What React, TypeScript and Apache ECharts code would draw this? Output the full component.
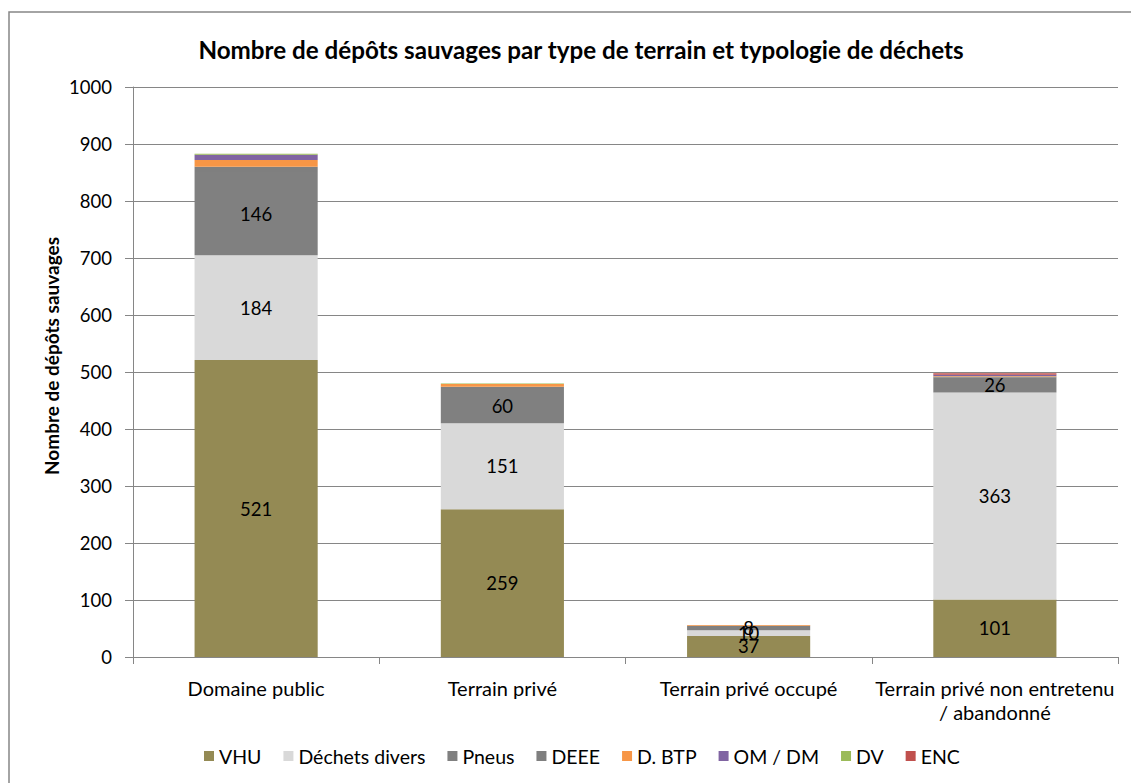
import React, { useEffect, useRef } from "react";
import * as echarts from "echarts";

const categories = [
  "Domaine public",
  "Terrain privé",
  "Terrain privé occupé",
  "Terrain privé non entretenu\n/ abandonné",
];
const seriesNames = ["VHU", "Déchets divers", "Pneus", "DEEE", "D. BTP", "OM / DM", "DV", "ENC"];
const vhu = [521, 259, 37, 101];
const dechetsDivers = [184, 151, 10, 363];
const pneus = [146, 60, 8, 26];
const deee = [9, 4, 0, 2];
const dBtp = [12, 5, 1, 1];
const omDm = [9, 0, 0, 2];
const dv = [2, 1, 0, 0];
const enc = [0, 0, 0, 3];
const seriesValues = [vhu, dechetsDivers, pneus, deee, dBtp, omDm, dv, enc];
const colors = ["#948A54", "#D9D9D9", "#808080", "#7F7F7F", "#F79646", "#8064A2", "#9BBB59", "#C0504D"];
const labelled = [true, true, true, false, false, false, false, false];
const yTicks = { min: 0, max: 1000, interval: 100 };
const titleText = "Nombre de dépôts sauvages par type de terrain et typologie de déchets";
const yAxisTitle = "Nombre de dépôts sauvages";

const FONT = "Lato, 'Open Sans', sans-serif";

export default function App() {
  const ref = useRef<HTMLDivElement>(null);
  useEffect(() => {
    document.body.style.margin = "0";
    const chart = echarts.init(ref.current!, null, { renderer: "svg" });
    chart.setOption({
      animation: false,
      backgroundColor: "#ffffff",
      title: {
        text: titleText,
        left: 576,
        textAlign: "center",
        top: 32,
        textStyle: { fontFamily: FONT, fontSize: 24.2, fontWeight: "bold", color: "#000" },
      },
      graphic: [
        {
          type: "rect",
          shape: { x: 9, y: 12, width: 1200, height: 1000 },
          style: { fill: "none", stroke: "#868686", lineWidth: 1.5 },
          silent: true,
        },
        {
          type: "text",
          x: 51,
          y: 356,
          rotation: Math.PI / 2,
          style: {
            text: yAxisTitle,
            fontFamily: FONT,
            fontSize: 19,
            fontWeight: "bold",
            fill: "#000",
            align: "center",
            verticalAlign: "middle",
          },
          silent: true,
        },
      ],
      legend: {
        top: 746,
        left: 204,
        padding: 0,
        icon: "rect",
        itemWidth: 10,
        itemHeight: 10,
        itemGap: 22,
        textStyle: { fontFamily: FONT, fontSize: 19.5, color: "#000" },
        data: seriesNames,
      },
      grid: { left: 133, right: 13, top: 87, bottom: 126, containLabel: false },
      xAxis: {
        type: "category",
        data: categories,
        axisLine: { lineStyle: { color: "#868686" } },
        axisTick: { show: true, length: 7, lineStyle: { color: "#868686" } },
        axisLabel: {
          fontFamily: FONT,
          fontSize: 20,
          color: "#000",
          margin: 19,
          interval: 0,
          lineHeight: 24,
        },
      },
      yAxis: {
        type: "value",
        min: yTicks.min,
        max: yTicks.max,
        interval: yTicks.interval,
        axisLine: { show: true, lineStyle: { color: "#868686" } },
        axisTick: { show: true, length: 8, lineStyle: { color: "#868686" } },
        axisLabel: {
          fontFamily: FONT,
          fontSize: 18.5,
          color: "#000",
          margin: 21,
          formatter: (v: number) => String(v),
        },
        splitLine: { lineStyle: { color: "#868686" } },
      },
      series: seriesNames.map((name, i) => ({
        name,
        type: "bar",
        stack: "total",
        barWidth: "50%",
        data: seriesValues[i],
        itemStyle: { color: colors[i] },
        label: {
          show: labelled[i],
          position: "inside",
          fontFamily: FONT,
          fontSize: 18.5,
          color: "#000",
          formatter: (p: any) => (p.value > 0 ? String(p.value) : ""),
        },
      })),
    });
    return () => chart.dispose();
  }, []);
  return <div ref={ref} style={{ width: 1131, height: 783 }} />;
}
